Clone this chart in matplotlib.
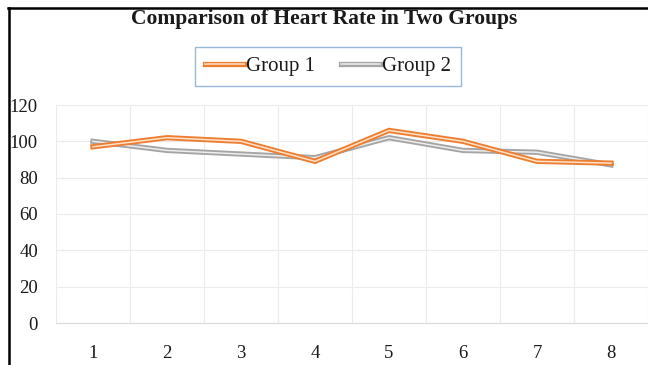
import matplotlib
matplotlib.use("Agg")
import matplotlib.pyplot as plt
import matplotlib.patheffects as pe
from matplotlib.lines import Line2D

# Heart rate readings for each of the eight measurements
measurements = [1, 2, 3, 4, 5, 6, 7, 8]
group1 = [97, 102, 100, 89, 106, 100, 89, 88]
group2 = [100, 95, 93, 91, 102, 95, 94, 87]
y_ticks = [0, 20, 40, 60, 80, 100, 120]

title = "Comparison of Heart Rate in Two Groups"
series_names = ["Group 1", "Group 2"]

serif = ["Liberation Serif", "DejaVu Serif"]
plt.rcParams["font.family"] = serif

W, H = 648, 365
fig = plt.figure(figsize=(W / 100, H / 100), dpi=100)
fig.patch.set_facecolor("white")

# frame around the chart (top and left edges)
fig.add_artist(Line2D([8.5 / W, 8.5 / W], [0, 1 - 8 / H], color="black", lw=1.8,
                      transform=fig.transFigure))
fig.add_artist(Line2D([8 / W, 647 / W], [1 - 8 / H, 1 - 8 / H], color="black", lw=1.8,
                      transform=fig.transFigure))

ax = fig.add_axes([56 / W, 1 - 323 / H, (648 - 56) / W, (323 - 105) / H])
x = list(range(len(measurements)))

orange, orange_core = "#ED7D31", "#FCE2C8"
gray, gray_core = "#A5A5A5", "#EDEDED"

ax.plot(x, group1, color=orange_core, lw=1.1, solid_joinstyle="miter",
        path_effects=[pe.Stroke(linewidth=3.8, foreground=orange), pe.Normal()],
        label=series_names[0], zorder=4)
ax.plot(x, group2, color=gray_core, lw=1.1, solid_joinstyle="miter",
        path_effects=[pe.Stroke(linewidth=3.8, foreground=gray), pe.Normal()],
        label=series_names[1], zorder=3)

ax.set_xlim(-0.5, len(x) - 0.5)
ax.set_ylim(0, 120)
ax.set_yticks(y_ticks)
ax.set_xticks(x)
ax.set_xticklabels([str(m) for m in measurements])

# category boundary grid lines and value grid lines
ax.set_xticks([i - 0.5 for i in range(len(x) + 1)], minor=True)
ax.grid(which="minor", axis="x", color="#EBEBEB", lw=0.8)
ax.grid(which="major", axis="y", color="#EBEBEB", lw=0.8)
ax.set_axisbelow(True)

for s in ["top", "right", "left"]:
    ax.spines[s].set_visible(False)
ax.spines["bottom"].set_color("#D9D9D9")
ax.spines["bottom"].set_linewidth(0.8)

ax.tick_params(axis="both", which="both", length=0, labelsize=13.5, colors="#1a1a1a")
ax.tick_params(axis="y", pad=13)
ax.tick_params(axis="x", pad=16)

fig.text(324 / W, 1 - 19 / H, title, ha="center", va="center",
         fontsize=15.5, fontweight="bold", color="#1a1a1a")

leg = fig.legend(loc="center", bbox_to_anchor=(328 / W, 1 - 66.5 / H), ncol=2,
                 frameon=True, fancybox=False, fontsize=15, handlelength=1.9,
                 handletextpad=0.1, columnspacing=1.2, borderpad=0.45,
                 borderaxespad=0)
leg.get_frame().set_edgecolor("#7EA6D3")
leg.get_frame().set_linewidth(1.0)
for t in leg.get_texts():
    t.set_color("#1a1a1a")

fig.savefig("out.png", dpi=100)
